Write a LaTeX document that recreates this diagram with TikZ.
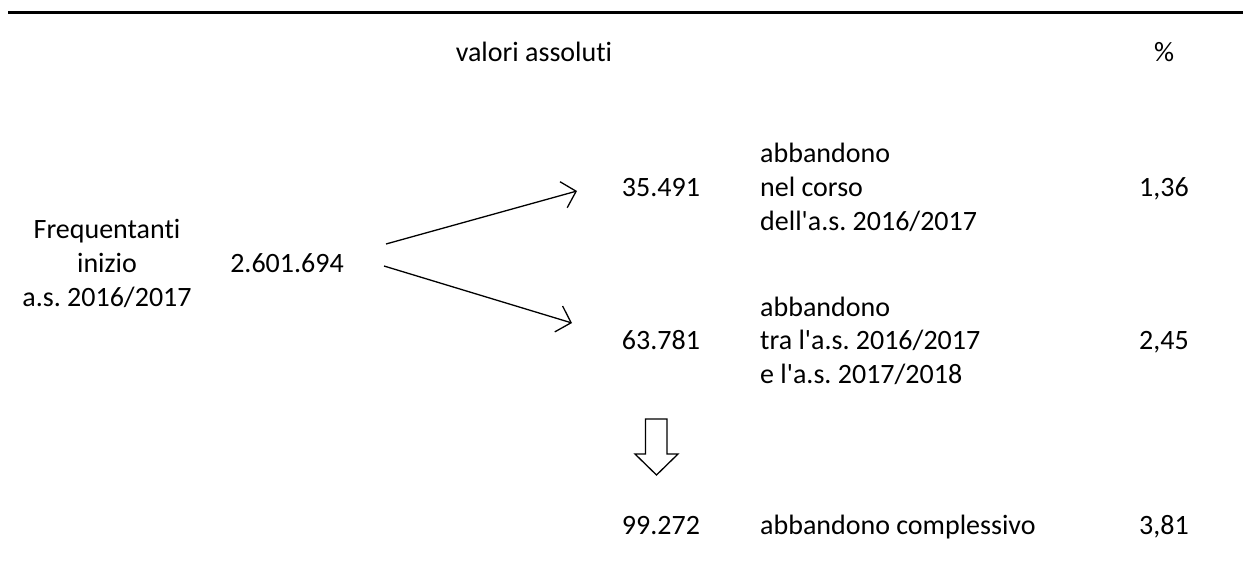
\documentclass[tikz,border=0pt]{standalone}
\usepackage{fontspec}
\setmainfont{Carlito}[Ligatures={NoCommon}]
\usetikzlibrary{arrows.meta}
\frenchspacing
\newcommand{\ap}{\textquotesingle}
\begin{document}
\begin{tikzpicture}[x=1pt,y=-1pt,
  txt/.style={inner sep=0pt,anchor=base,font=\fontsize{28}{33.5}\selectfont},
  txtl/.style={txt,anchor=base west},
  flow/.style={line width=1.3pt,-{Straight Barb[length=13pt,width=27pt,line width=1.3pt]}},
  hollow/.style={line width=1.3pt,line join=miter}]
\useasboundingbox (0,0) rectangle (1243,571);
\draw[line width=3pt] (8,12.5) -- (1243,12.5);
% header
\node[txt] (hva) at (534,61) {valori assoluti};
\node[txt] (hpc) at (1164,61) {\%};
% left block
\node[txt] (f1) at (107,238) {Frequentanti};
\node[txt] (f2) at (107,272) {inizio};
\node[txt] (f3) at (107,306) {a.s. 2016/2017};
\node[txt] (tot) at (287,272) {2.601.694};
% row 1
\node[txt] (n1) at (661,196) {35.491};
\node[txtl] (a1) at (760,162) {abbandono};
\node[txtl] (a2) at (760,196) {nel corso};
\node[txtl] (a3) at (760,230) {dell\ap a.s. 2016/2017};
\node[txt] (p1) at (1164,196) {1,36};
% row 2
\node[txt] (n2) at (661,349) {63.781};
\node[txtl] (b1) at (760,316) {abbandono};
\node[txtl] (b2) at (760,349) {tra l\ap a.s. 2016/2017};
\node[txtl] (b3) at (760,383) {e l\ap a.s. 2017/2018};
\node[txt] (p2) at (1164,349) {2,45};
% row 3
\node[txt] (n3) at (661,534) {99.272};
\node[txtl] (c1) at (760,534) {abbandono complessivo};
\node[txt] (p3) at (1164,534) {3,81};
% arrows
\coordinate (s1) at (386,244);
\coordinate (e1) at (577,191);
\coordinate (s2) at (384,266);
\coordinate (e2) at (572,323);
\draw[flow] (s1) -- (e1);
\draw[flow] (s2) -- (e2);
% hollow down arrow
\draw[hollow] (645.5,419) -- (667,419) -- (667,454) -- (678,454) -- (656.5,475) -- (635,454) -- (645.5,454) -- cycle;
\end{tikzpicture}
\end{document}
